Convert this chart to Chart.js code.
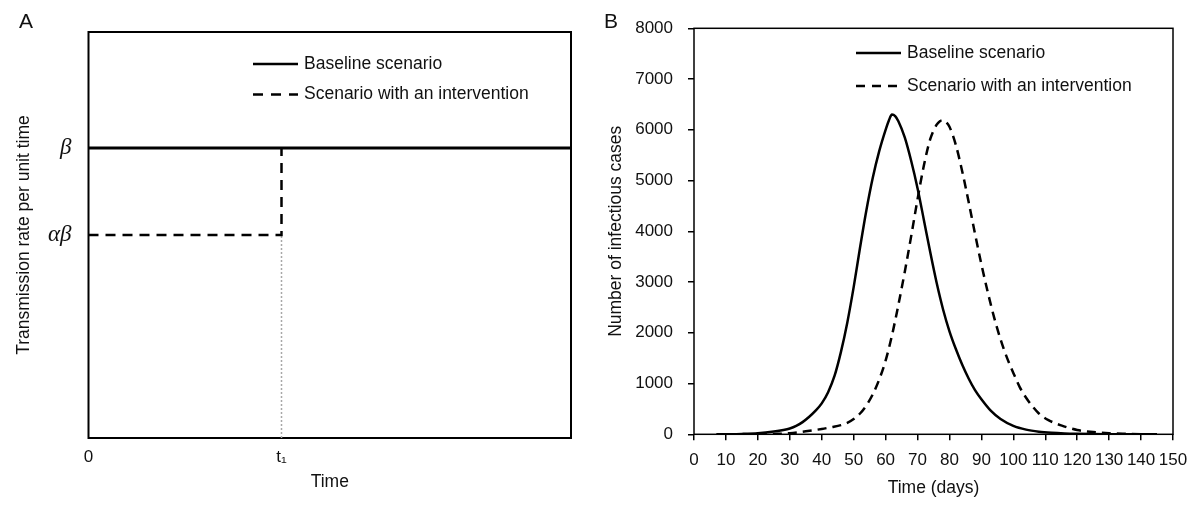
<!DOCTYPE html>
<html>
<head>
<meta charset="utf-8">
<script src="https://cdn.jsdelivr.net/npm/chart.js@4.4.1/dist/chart.umd.min.js"></script>
<style>
  html, body { margin: 0; padding: 0; background: #fff; }
  .wrap { display: flex; width: 1200px; height: 507px; }
  canvas { display: block; }
</style>
</head>
<body>
<div class="wrap">
  <canvas id="chartA" width="600" height="507"></canvas>
  <canvas id="chartB" width="600" height="507"></canvas>
</div>
<script>
// Panel A - schematic transmission rate (time 0..10, t1 = 4, beta = 1)
const timeBaseline = [0, 10];
const rateBaseline = [1, 1];
const timeIntervention = [0, 4, 4];
const rateIntervention = [0.7, 0.7, 1];
const timeMarker = [4, 4];
const rateMarker = [0, 0.7];
const rateTickValues = [0.7, 1];
const rateTickLabels = ['αβ', 'β'];
const timeTickValues = [0, 4];
const timeTickLabels = ['0', 't₁'];

// Panel B - number of infectious cases by day
const baselineDays = [7, 10, 15, 20, 25, 28, 30, 32, 34, 36, 38, 40, 42, 44, 46, 48, 50, 52, 54, 56, 58, 60, 61, 62, 63, 64, 66, 68, 70, 72, 74, 76, 78, 80, 82, 84, 86, 88, 90, 93, 96, 100, 104, 108, 112, 116, 120, 125, 130, 140, 145];
const baselineCases = [0, 2, 8, 22, 55, 85, 115, 165, 240, 340, 460, 610, 830, 1150, 1620, 2200, 2900, 3680, 4420, 5060, 5580, 6000, 6180, 6300, 6270, 6170, 5850, 5390, 4850, 4220, 3580, 2980, 2460, 2030, 1680, 1370, 1100, 870, 690, 460, 300, 165, 92, 52, 30, 17, 10, 5, 3, 1, 0];
const interventionDays = [20, 25, 30, 35, 40, 43, 46, 48, 50, 52, 54, 56, 58, 60, 62, 64, 66, 68, 70, 72, 74, 76, 77, 78, 79, 80, 82, 84, 86, 88, 90, 92, 94, 96, 98, 100, 102, 104, 106, 108, 111, 115, 120, 125, 130, 135, 140, 145];
const interventionCases = [0, 8, 22, 60, 105, 140, 180, 225, 300, 410, 570, 790, 1080, 1450, 1950, 2550, 3200, 3900, 4630, 5300, 5820, 6100, 6170, 6190, 6150, 6060, 5700, 5180, 4580, 3950, 3350, 2800, 2300, 1870, 1510, 1210, 930, 720, 550, 410, 280, 175, 85, 45, 20, 9, 3, 0];

const SANS = '"Liberation Sans", Arial, sans-serif';
const toPoints = (xs, ys) => xs.map((x, i) => ({ x, y: ys[i] }));

// box round the plot area + panel letter
const frame = {
  id: 'frame',
  beforeDatasetsDraw(chart, args, opts) {
    const { ctx, chartArea: a } = chart;
    ctx.save();
    ctx.strokeStyle = '#000';
    ctx.lineWidth = opts.width;
    ctx.strokeRect(a.left, a.top, a.right - a.left, a.bottom - a.top);
    ctx.font = '21px ' + SANS;
    ctx.fillStyle = '#111';
    ctx.textBaseline = 'alphabetic';
    ctx.fillText(opts.letter, opts.letterX, opts.letterY);
    ctx.restore();
  },
};

// legend drawn inside the plot, one row per labelled dataset
const insideLegend = {
  id: 'insideLegend',
  afterDatasetsDraw(chart, args, opts) {
    const ctx = chart.ctx;
    ctx.save();
    ctx.font = '17.5px ' + SANS;
    ctx.fillStyle = '#111';
    ctx.textBaseline = 'middle';
    let y = opts.y;
    chart.data.datasets
      .filter((d) => d.label)
      .forEach((d) => {
        ctx.strokeStyle = '#000';
        ctx.lineWidth = 2.5;
        ctx.setLineDash(d.borderDash && d.borderDash.length ? opts.dash : []);
        ctx.beginPath();
        ctx.moveTo(opts.x, y);
        ctx.lineTo(opts.x + opts.length, y);
        ctx.stroke();
        ctx.fillText(d.label, opts.x + opts.length + 6, y);
        y += opts.rowGap;
      });
    ctx.restore();
  },
};

const configA = {
  type: 'line',
  data: {
    datasets: [
      {
        label: 'Baseline scenario',
        data: toPoints(timeBaseline, rateBaseline),
        borderColor: '#000',
        borderWidth: 3,
        pointRadius: 0,
      },
      {
        label: 'Scenario with an intervention',
        data: toPoints(timeIntervention, rateIntervention),
        borderColor: '#000',
        borderWidth: 2.5,
        borderDash: [10, 7],
        pointRadius: 0,
      },
      {
        data: toPoints(timeMarker, rateMarker),
        borderColor: '#a8a8a8',
        borderWidth: 1.5,
        borderDash: [2, 2],
        pointRadius: 0,
      },
    ],
  },
  options: {
    responsive: false,
    animation: false,
    layout: { padding: { top: 32, right: 29, left: 0, bottom: 0 } },
    scales: {
      x: {
        type: 'linear',
        min: 0,
        max: 10,
        afterBuildTicks: (s) => {
          s.ticks = timeTickValues.map((v) => ({ value: v }));
        },
        afterFit: (s) => {
          s.height = 69;
        },
        ticks: {
          callback: (v) => timeTickLabels[timeTickValues.indexOf(v)],
          font: { family: SANS, size: 17 },
          color: '#111',
          padding: 9,
          maxRotation: 0,
        },
        grid: { display: false, drawTicks: false },
        border: { display: false },
        title: {
          display: true,
          text: 'Time',
          font: { family: SANS, size: 17.5 },
          color: '#111',
          padding: { top: 0, bottom: 14.5 },
        },
      },
      y: {
        type: 'linear',
        min: 0,
        max: 1.4,
        afterBuildTicks: (s) => {
          s.ticks = rateTickValues.map((v) => ({ value: v }));
        },
        afterFit: (s) => {
          s.width = 88.5;
        },
        ticks: {
          callback: (v) => rateTickLabels[rateTickValues.indexOf(v)],
          font: { family: '"Liberation Serif", "Times New Roman", serif', size: 23, style: 'italic' },
          color: '#111',
          padding: 17,
        },
        grid: { display: false, drawTicks: false },
        border: { display: false },
        title: {
          display: true,
          text: 'Transmission rate per unit time',
          font: { family: SANS, size: 17.5 },
          color: '#111',
          padding: { top: 14, bottom: 0 },
        },
      },
    },
    plugins: {
      legend: { display: false },
      tooltip: { enabled: false },
      frame: { width: 2, letter: 'A', letterX: 19, letterY: 28 },
      insideLegend: { x: 253, y: 64, rowGap: 30.5, length: 45, dash: [10, 8] },
    },
  },
  plugins: [frame, insideLegend],
};

const tickGrid = {
  display: true,
  drawOnChartArea: false,
  drawTicks: true,
  tickLength: 6,
  color: '#000',
  lineWidth: 1.5,
};

const configB = {
  type: 'line',
  data: {
    datasets: [
      {
        label: 'Baseline scenario',
        data: toPoints(baselineDays, baselineCases),
        borderColor: '#000',
        borderWidth: 2.5,
        pointRadius: 0,
        cubicInterpolationMode: 'monotone',
      },
      {
        label: 'Scenario with an intervention',
        data: toPoints(interventionDays, interventionCases),
        borderColor: '#000',
        borderWidth: 2.5,
        borderDash: [9, 6],
        pointRadius: 0,
        cubicInterpolationMode: 'monotone',
      },
    ],
  },
  options: {
    responsive: false,
    animation: false,
    layout: { padding: { top: 28.3, right: 27, left: 0, bottom: 0 } },
    scales: {
      x: {
        type: 'linear',
        min: 0,
        max: 150,
        afterFit: (s) => {
          s.height = 72.7;
        },
        ticks: {
          stepSize: 10,
          autoSkip: false,
          maxRotation: 0,
          callback: (v) => String(v),
          font: { family: SANS, size: 17 },
          color: '#111',
          padding: 9.5,
        },
        grid: tickGrid,
        border: { display: false },
        title: {
          display: true,
          text: 'Time (days)',
          font: { family: SANS, size: 17.5 },
          color: '#111',
          padding: { top: 0, bottom: 8.5 },
        },
      },
      y: {
        type: 'linear',
        min: 0,
        max: 8000,
        afterFit: (s) => {
          s.width = 94;
        },
        ticks: {
          stepSize: 1000,
          callback: (v) => String(v),
          font: { family: SANS, size: 17 },
          color: '#111',
          padding: 15,
        },
        grid: tickGrid,
        border: { display: false },
        title: {
          display: true,
          text: 'Number of infectious cases',
          font: { family: SANS, size: 17.5 },
          color: '#111',
          padding: { top: 5.5, bottom: 0 },
        },
      },
    },
    plugins: {
      legend: { display: false },
      tooltip: { enabled: false },
      frame: { width: 1.5, letter: 'B', letterX: 4, letterY: 28 },
      insideLegend: { x: 256, y: 53, rowGap: 33, length: 45, dash: [9, 7] },
    },
  },
  plugins: [frame, insideLegend],
};

try {
  const chartA = new Chart(document.getElementById('chartA'), configA);
  const chartB = new Chart(document.getElementById('chartB'), configB);
} catch (e) {
  // eslint-disable-next-line no-console
  console.log(e);
}
</script>
</body>
</html>
